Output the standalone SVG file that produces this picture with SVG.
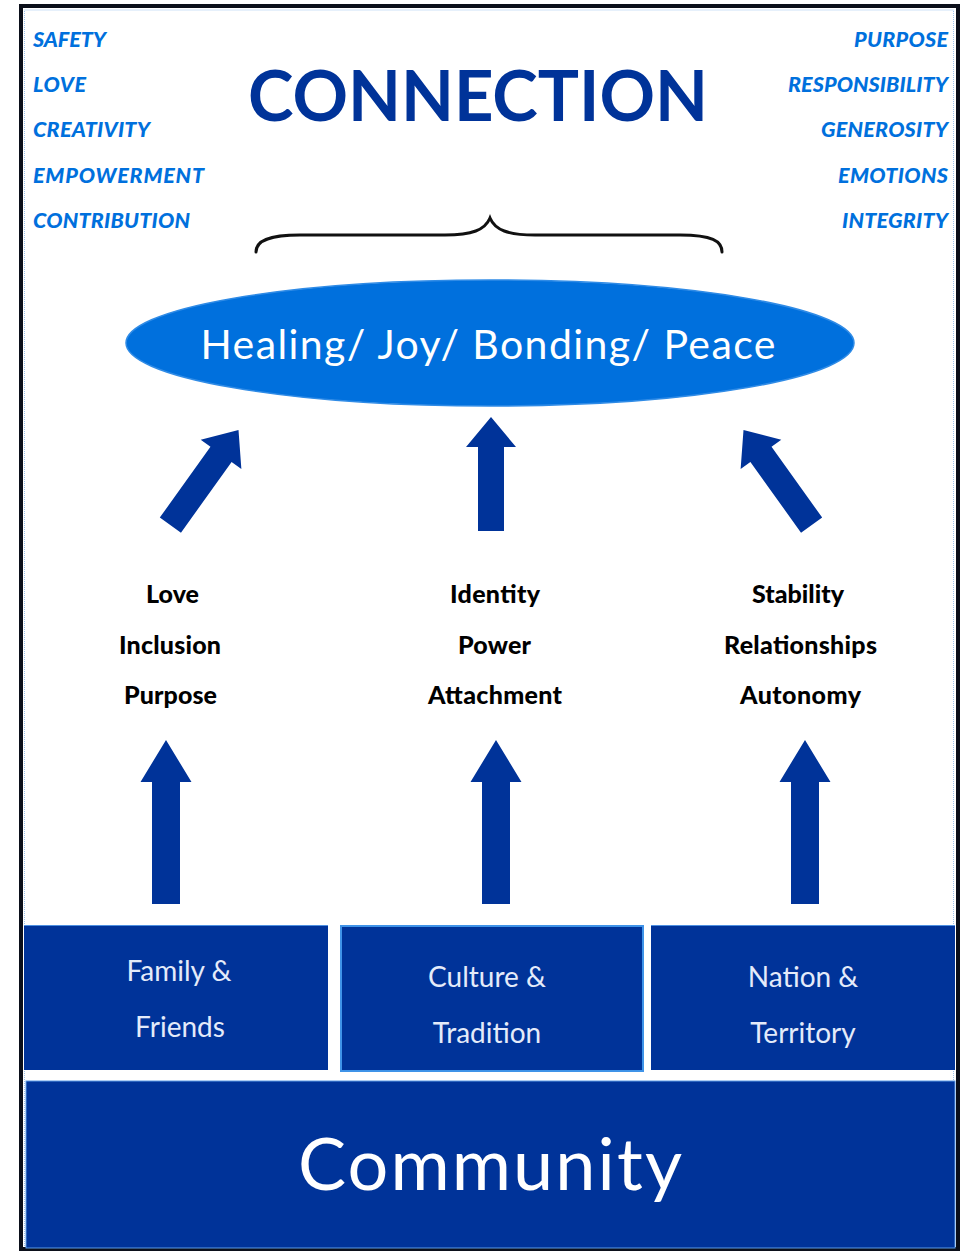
<svg xmlns="http://www.w3.org/2000/svg" xmlns:xlink="http://www.w3.org/1999/xlink" width="970" height="1251" viewBox="0 0 970 1251">
  <style>
    .side { font-family: Lato, "Open Sans", "Liberation Sans", sans-serif; font-weight: 900; font-style: italic; font-size: 21.5px; fill: #0070DD; }
    .title { font-family: Lato, "Open Sans", "Liberation Sans", sans-serif; font-weight: 700; font-size: 71px; fill: #003399; }
    .word { font-family: Lato, "Open Sans", "Liberation Sans", sans-serif; font-weight: 900; font-size: 25px; fill: #000000; text-anchor: middle; }
    .boxtxt { font-family: Lato, "Open Sans", "Liberation Sans", sans-serif; font-weight: 400; font-size: 28px; fill: #e4ebfa; text-anchor: middle; }
    .arrow { fill: #003399; }
    .box { fill: #003399; }
  </style>
  <defs>
    <path id="arrDiag" d="M0,0 L25,30 L13,30 L13,117 L-13,117 L-13,30 L-25,30 Z"/>
    <path id="arrUp" d="M0,0 L25,30 L13,30 L13,114 L-13,114 L-13,30 L-25,30 Z"/>
    <path id="arrLow" d="M0,0 L25.5,42 L14,42 L14,164 L-14,164 L-14,42 L-25.5,42 Z"/>
  </defs>

  <rect x="0" y="0" width="970" height="1251" fill="#ffffff"/>

  <!-- frame -->
  <rect x="21" y="6" width="937" height="1243" fill="#ffffff" stroke="#0b0f1a" stroke-width="4"/>
  <rect x="24.5" y="10" width="929" height="1236" fill="none" stroke="#9cc3ee" stroke-width="1" stroke-dasharray="1 1"/>

  <!-- side values -->
  <g id="left-values">
    <text class="side" x="33" y="46.5" textLength="73">SAFETY</text>
    <text class="side" x="33" y="91.5" textLength="53">LOVE</text>
    <text class="side" x="33" y="137" textLength="117">CREATIVITY</text>
    <text class="side" x="33" y="182.5" textLength="171">EMPOWERMENT</text>
    <text class="side" x="33" y="228" textLength="157">CONTRIBUTION</text>
  </g>
  <g id="right-values">
    <text class="side" x="948" y="46.5" text-anchor="end" textLength="94">PURPOSE</text>
    <text class="side" x="948" y="91.5" text-anchor="end" textLength="160">RESPONSIBILITY</text>
    <text class="side" x="948" y="137" text-anchor="end" textLength="127">GENEROSITY</text>
    <text class="side" x="948" y="182.5" text-anchor="end" textLength="110">EMOTIONS</text>
    <text class="side" x="948" y="228" text-anchor="end" textLength="106">INTEGRITY</text>
  </g>

  <g id="title">
    <text class="title" x="248" y="121" textLength="460" lengthAdjust="spacingAndGlyphs">CONNECTION</text>
  </g>

  <g id="brace">
    <path d="M256,252 C256,241 268,235 300,235 L445,235 C472,235 485,230 490,218 C495,230 508,235 535,235 L680,235 C712,235 722,241 722,252" fill="none" stroke="#111111" stroke-width="3" stroke-linecap="round"/>
  </g>

  <g id="outcome">
    <ellipse cx="490" cy="343" rx="364" ry="63" fill="#0070DD" stroke="#2f8be6" stroke-width="1.5"/>
    <text x="488" y="359" text-anchor="middle" font-family="Lato, 'Open Sans', 'Liberation Sans', sans-serif" font-size="41" fill="#ffffff" textLength="575">Healing/ Joy/ Bonding/ Peace</text>
  </g>

  <g id="needs-1">
    <text class="word" x="172.5" y="603" textLength="53">Love</text>
    <text class="word" x="170" y="654" textLength="102">Inclusion</text>
    <text class="word" x="170.5" y="704" textLength="93">Purpose</text>
  </g>
  <g id="needs-2">
    <text class="word" x="495" y="603" textLength="90">Identity</text>
    <text class="word" x="494.5" y="654" textLength="73">Power</text>
    <text class="word" x="495" y="704" textLength="134">Attachment</text>
  </g>
  <g id="needs-3">
    <text class="word" x="798" y="603" textLength="92">Stability</text>
    <text class="word" x="800.5" y="654" textLength="153">Relationships</text>
    <text class="word" x="800.5" y="704" textLength="121">Autonomy</text>
  </g>

  <g id="connectors">
    <use xlink:href="#arrDiag" class="arrow" transform="translate(238.5,430) rotate(35.6)"/>
    <use xlink:href="#arrUp" class="arrow" transform="translate(491,417)"/>
    <use xlink:href="#arrDiag" class="arrow" transform="translate(743.5,430) rotate(-35.6)"/>
    <use xlink:href="#arrLow" class="arrow" transform="translate(166,740)"/>
    <use xlink:href="#arrLow" class="arrow" transform="translate(496,740)"/>
    <use xlink:href="#arrLow" class="arrow" transform="translate(805,740)"/>
  </g>

  <g id="family-friends">
    <rect class="box" x="24" y="925" width="304" height="145"/>
    <line x1="24" y1="925.5" x2="328" y2="925.5" stroke="#4d8fe0" stroke-width="1"/>
    <text class="boxtxt" x="179" y="981">Family &amp;</text>
    <text class="boxtxt" x="180" y="1037">Friends</text>
  </g>
  <g id="culture-tradition">
    <rect class="box" x="341" y="926" width="302" height="145" stroke="#3f93e8" stroke-width="2"/>
    <text class="boxtxt" x="487" y="987">Culture &amp;</text>
    <text class="boxtxt" x="487" y="1043">Tradition</text>
  </g>
  <g id="nation-territory">
    <rect class="box" x="651" y="925" width="304" height="145"/>
    <line x1="651" y1="925.5" x2="955" y2="925.5" stroke="#4d8fe0" stroke-width="1"/>
    <text class="boxtxt" x="803" y="987">Nation &amp;</text>
    <text class="boxtxt" x="803" y="1043">Territory</text>
  </g>
  <g id="community">
    <rect class="box" x="26" y="1081" width="929" height="167" stroke="#5a9ae6" stroke-width="1"/>
    <text x="490" y="1190" text-anchor="middle" font-family="Lato, 'Open Sans', 'Liberation Sans', sans-serif" font-size="72" fill="#ffffff" textLength="384">Community</text>
  </g>
</svg>
